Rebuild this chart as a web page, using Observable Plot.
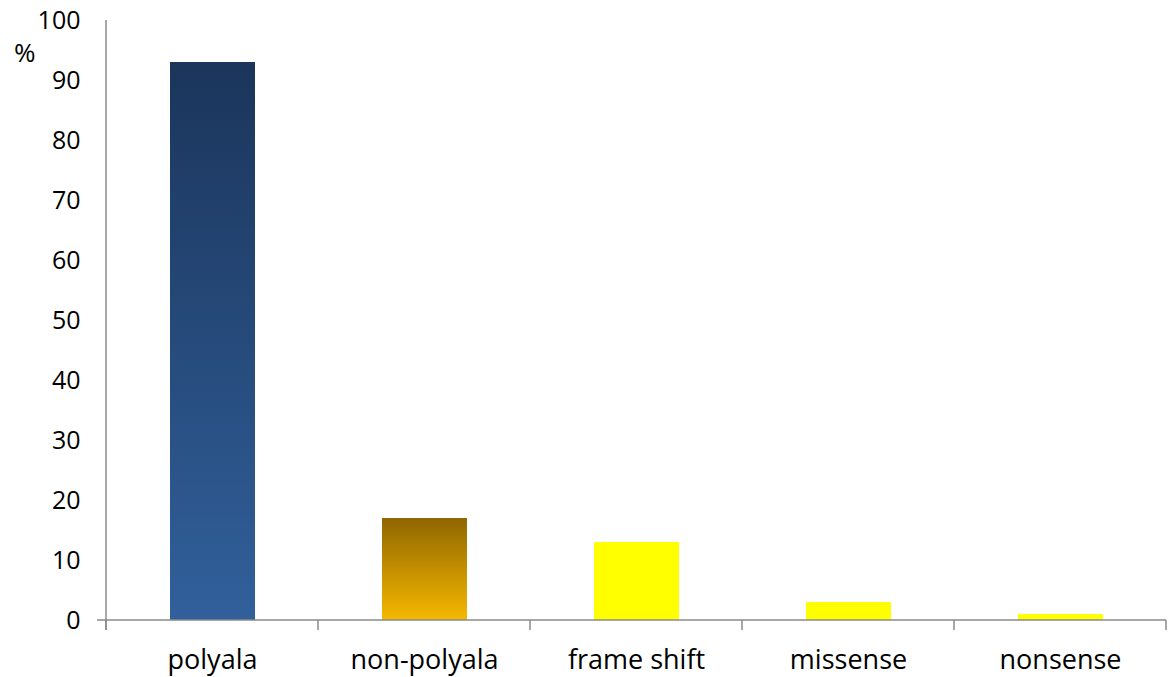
<!DOCTYPE html>
<html>
<head>
<meta charset="utf-8">
<script src="https://cdn.jsdelivr.net/npm/d3@7"></script>
<script src="https://cdn.jsdelivr.net/npm/@observablehq/plot@0.6"></script>
<style>
  html, body { margin: 0; padding: 0; background: #fff; }
  #chart { position: relative; width: 1173px; height: 677px; }
  #unit { position: absolute; left: 14px; top: 34px; font: 26px "Open Sans", "Noto Sans", sans-serif; color: #000; }
</style>
</head>
<body>
<div id="chart"><div id="unit">%</div></div>
<script>
// Mutation types and their share (%)
const categories = ["polyala", "non-polyala", "frame shift", "missense", "nonsense"];
const values = [93, 17, 13, 3, 1];
const yTicks = [0, 10, 20, 30, 40, 50, 60, 70, 80, 90, 100];

// Bar fills: two vertical gradients, the rest flat yellow
const fills = ["url(#grad-blue)", "url(#grad-gold)", "#ffff00", "#ffff00", "#ffff00"];

const data = categories.map((c, i) => ({category: c, value: values[i], fill: fills[i]}));

// Gradient definitions injected as a custom mark
function gradients() {
  const defs = d3.create("svg:defs");
  const mk = (id, top, bottom) => {
    const g = defs.append("linearGradient").attr("id", id)
      .attr("x1", 0).attr("y1", 0).attr("x2", 0).attr("y2", 1);
    g.append("stop").attr("offset", "0%").attr("stop-color", top);
    g.append("stop").attr("offset", "100%").attr("stop-color", bottom);
  };
  mk("grad-blue", "#1b355b", "#31609b");
  mk("grad-gold", "#8f6600", "#f6b800");
  return defs.node();
}

const axisColor = "#8a8a8a";

const plot = Plot.plot({
  width: 1173,
  height: 677,
  marginLeft: 106,
  marginRight: 7,
  marginTop: 20,
  marginBottom: 57,
  style: {fontFamily: "'Open Sans', 'Noto Sans', sans-serif", fontSize: "25px", color: "#000", background: "#fff"},
  x: {domain: categories, padding: 0, label: null},
  y: {domain: [0, 100], label: null},
  color: {type: "identity"},
  marks: [
    gradients,
    Plot.ruleY(yTicks, {x1: -0.04, x2: 1, stroke: axisColor, strokeWidth: 1.5, x: null}),
    Plot.barY(data, {x: "category", y: "value", fill: "fill", inset: 0, insetLeft: 64, insetRight: 63}),
    Plot.axisY({ticks: yTicks, tickSize: 0, tickPadding: 26, fontSize: 25, stroke: axisColor}),
    Plot.axisX({tickSize: 0, tickPadding: 29, fontSize: 27})
  ]
});

// Axis lines and category boundary ticks, placed from the scales
const svg = d3.select(plot);
const ys = plot.scale("y");
const left = 106, right = 1166;
const y0 = ys.apply(0), y100 = ys.apply(100);
const g = svg.append("g").attr("stroke", axisColor).attr("stroke-width", 1.5).attr("fill", "none");
g.append("line").attr("x1", left).attr("x2", left).attr("y1", y100).attr("y2", y0 + 10);
g.append("line").attr("x1", left - 9).attr("x2", right).attr("y1", y0).attr("y2", y0);
const band = (right - left) / categories.length;
for (let i = 0; i <= categories.length; i++) {
  const x = left + i * band;
  g.append("line").attr("x1", x).attr("x2", x).attr("y1", y0).attr("y2", y0 + 10);
}

document.getElementById("chart").appendChild(plot);
</script>
</body>
</html>
